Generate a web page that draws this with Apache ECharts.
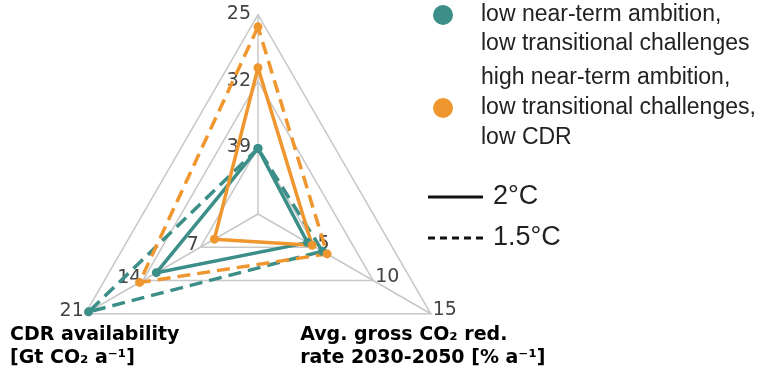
<!DOCTYPE html>
<html><head><meta charset="utf-8">
<script src="https://cdn.jsdelivr.net/npm/echarts@6/dist/echarts.min.js"></script>
<style>html,body{margin:0;padding:0;background:#fff}#c{width:761px;height:372px}</style>
</head><body><div id="c"></div>
<script>
// ---- data ----
// axis order: [top axis (46 at centre -> 25 at rim), CDR availability, Avg. gross CO2 red. rate]
const axisNames = ['', '{n|CDR availability}\n{n|[Gt CO₂ a⁻¹]}', '{n|Avg. gross CO₂ red.}\n{n|rate 2030-2050 [% a⁻¹]}'];
const axisMax = [21, 21, 15];
const topAxisCentre = 46;
const seriesNames = ['low near-term ambition,\nlow transitional challenges', 'high near-term ambition,\nlow transitional challenges,\nlow CDR'];
const tempNames = ['2°C', '1.5°C'];
const lowAmb2C = [39.1, 12.35, 4.3];
const lowAmb15C = [39.1, 20.6, 5.6];
const highAmb2C = [30.6, 5.3, 4.7];
const highAmb15C = [26.3, 14.4, 6.0];

const TEAL = '#3c8f88', ORANGE = '#f0962f';
const toRadar = v => [topAxisCentre - v[0], v[1], v[2]];
const font = 'DejaVu Sans';
const legendFont = 'Liberation Sans';
const dash = [13, 7];

const chart = echarts.init(document.getElementById('c'), null, {renderer: 'canvas'});
const nameRich = {n: {align: 'left', fontWeight: 'bold', fontSize: 19, fontFamily: font, color: '#000', lineHeight: 23}};
const legendText = {fontFamily: legendFont, fontSize: 23, color: '#222'};
function radarSeries(name, color, d15, d2) {
  return {
    type: 'radar', name: name, color: color, symbol: 'circle', symbolSize: 9,
    itemStyle: {color: color}, lineStyle: {color: color, width: 3.5},
    data: [
      {name: name + ' 1.5', value: toRadar(d15), lineStyle: {type: dash, width: 3.5, color: color}},
      {name: name + ' 2', value: toRadar(d2), lineStyle: {type: 'solid', width: 3.5, color: color}}
    ]
  };
}
chart.setOption({
  animation: false,
  backgroundColor: '#fff',
  radar: {
    center: [258, 214], radius: 199.5, shape: 'polygon', splitNumber: 3, startAngle: 90,
    axisNameGap: 0,
    axisLine: {lineStyle: {color: '#c8c8c8', width: 1.5}},
    splitLine: {lineStyle: {color: '#c8c8c8', width: 1.5}},
    splitArea: {show: false},
    axisTick: {show: false},
    axisLabel: {show: true, showMinLabel: false, fontFamily: font, fontSize: 19, color: '#444'},
    axisName: {color: '#000', fontFamily: font, fontSize: 19, fontWeight: 'bold', rich: nameRich},
    indicator: [
      {name: axisNames[0], min: 0, max: axisMax[0],
        axisLabel: {margin: 7, align: 'right', verticalAlign: 'middle', formatter: v => String(topAxisCentre - v)}},
      {name: axisNames[1], min: 0, max: axisMax[1], axisLabel: {margin: -3, align: 'right', verticalAlign: 'middle'},
        nameTextStyle: {align: 'center', verticalAlign: 'top', padding: [10, 0, 0, 19]}},
      {name: axisNames[2], min: 0, max: axisMax[2], axisLabel: {margin: 4, align: 'left', verticalAlign: 'middle'},
        nameTextStyle: {align: 'center', verticalAlign: 'top', padding: [10, 16, 0, 0]}}
    ]
  },
  legend: [
    {data: [seriesNames[0]], left: 433, top: -28.5, padding: 0, icon: 'circle', itemWidth: 66, itemHeight: 20,
      selectedMode: false, formatter: n => '\n' + n, textStyle: Object.assign({lineHeight: 29}, legendText)},
    {data: [seriesNames[1]], left: 433, top: 63, padding: 0, icon: 'circle', itemWidth: 66, itemHeight: 20,
      selectedMode: false, textStyle: Object.assign({lineHeight: 30}, legendText)},
    {data: [
        {name: tempNames[0], icon: 'path://M0,0h55v3h-55z'},
        {name: tempNames[1], icon: 'path://M0,0h7v3h-7zM12,0h7v3h-7zM24,0h7v3h-7zM36,0h7v3h-7zM48,0h7v3h-7z'}
      ], orient: 'vertical', left: 428, top: 182.5, padding: 0, itemWidth: 55, itemHeight: 3, itemGap: 12,
      selectedMode: false, textStyle: Object.assign({}, legendText, {fontSize: 27, lineHeight: 29, padding: [0, 0, 0, 5]})}
  ],
  series: [
    radarSeries(seriesNames[0], TEAL, lowAmb15C, lowAmb2C),
    radarSeries(seriesNames[1], ORANGE, highAmb15C, highAmb2C),
    {type: 'radar', name: tempNames[0], color: '#111', itemStyle: {color: '#111'}, data: []},
    {type: 'radar', name: tempNames[1], color: '#111', itemStyle: {color: '#111'}, data: []}
  ]
});
</script></body></html>
